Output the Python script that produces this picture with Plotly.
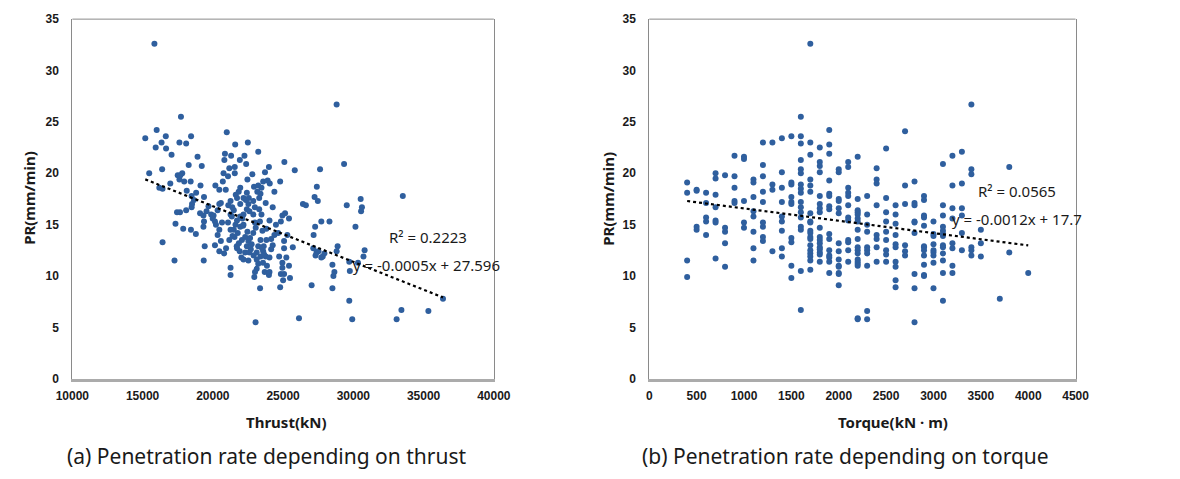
import numpy as np
import plotly.graph_objects as go

# ---------------- data: (a) thrust vs PR ----------------
thrust_kN = [15840, 28810, 17730, 16000, 15190, 16650, 18450, 20990, 15930, 16350, 16670, 17620, 18100, 17060,
             18910, 19210, 21590, 22490, 23230, 20860, 20820, 21300, 21920, 22250, 22370, 25090, 29340, 15470,
             16390, 18280, 17500, 17820, 17620, 17960, 18420, 16970, 19120, 16190, 16420, 18140, 18810, 18650,
             19370, 19690, 18490, 17660, 19090, 18100, 20760, 21080, 21560, 21560, 20710, 20180, 20460, 20920,
             21170, 22810, 22460, 22930, 23230, 23580, 23710, 23990, 23900, 24050, 24790, 24380, 25830, 27630,
             27400, 27240, 27470, 26410, 26620, 29530, 30520, 30610, 30550, 33520, 30150, 30800, 30720, 28300,
             27720, 27280, 27170, 27150, 27380, 27520, 27720, 27820, 27310, 27940, 28880, 28810, 29710, 30330,
             28510, 28650, 28580, 29750, 29710, 28510, 27030, 24790, 23360, 23040, 26130, 29920, 33080, 33420,
             35340, 36380, 17270, 19350, 16420, 17340, 17890, 18440, 18790, 19420, 19330, 19370, 19330, 18520,
             19880, 19990, 20150, 20340, 20460, 20570, 20220, 20460, 20340, 20150, 20460, 20570, 20800, 20940,
             21170, 21260, 21080, 21260, 21380, 21260, 21490, 21630, 21950, 21840, 21720, 21950, 22180, 22420,
             22560, 22530, 22420, 22180, 21950, 21720, 21610, 21490, 21770, 21540, 21950, 22180, 22070, 21720,
             21910, 22030, 22300, 22420, 22530, 22300, 22460, 22650, 22760, 22600, 22530, 22180, 22880, 22990,
             22880, 22990, 22880, 23300, 23160, 23390, 23460, 23300, 23460, 23350, 23530, 23810, 23760, 24030,
             24260, 24490, 24380, 24260, 24150, 23810, 23620, 23580, 23390, 23760, 24030, 23570, 23850, 23690,
             23990, 24030, 23230, 23120, 23000, 22950, 23120, 23120, 23230, 23390, 21260, 21260, 24720, 24950,
             24950, 24840, 25070, 25000, 25230, 25420, 25490, 25070, 25070, 25300, 24840, 24950, 25140, 25420,
             25690, 24650, 18490, 17450, 17690, 21400, 21700, 22100, 22700, 23050, 22350, 21850, 22600, 23500,
             21350, 20650, 19550, 20050, 22900, 23650, 24150, 21100, 22150]
pr_thrust = [32.6, 26.7, 25.5, 24.2, 23.4, 23.6, 23.6, 24.0, 22.5, 23.0, 22.4, 23.0, 22.9, 21.8,
             21.6, 20.7, 22.8, 23.0, 22.1, 21.9, 21.3, 21.7, 21.3, 21.7, 20.9, 21.1, 20.9, 20.0,
             20.4, 20.8, 19.8, 20.0, 19.4, 19.2, 19.2, 19.0, 18.8, 18.6, 18.5, 18.3, 18.1, 17.4,
             17.7, 16.8, 16.7, 16.2, 16.1, 16.4, 20.0, 19.7, 20.6, 20.0, 19.2, 18.8, 18.4, 18.4,
             20.5, 19.9, 19.4, 18.7, 18.8, 19.2, 20.1, 20.6, 19.3, 19.0, 19.2, 18.2, 20.3, 20.4,
             18.7, 17.7, 17.3, 17.0, 16.9, 16.9, 17.5, 16.7, 16.3, 17.8, 14.8, 12.5, 11.9, 15.3,
             15.3, 14.8, 14.0, 12.7, 12.3, 12.4, 11.8, 11.9, 12.0, 12.2, 12.9, 12.4, 11.4, 11.3,
             11.1, 10.4, 10.0, 10.5, 7.6, 8.8, 9.1, 8.9, 8.8, 5.5, 5.9, 5.8, 5.8, 6.7,
             6.6, 7.8, 11.5, 11.5, 13.3, 15.1, 14.6, 14.5, 14.1, 12.9, 14.8, 15.3, 15.9, 17.0,
             16.0, 15.6, 15.3, 16.4, 17.0, 17.1, 15.0, 14.5, 14.0, 13.0, 12.4, 13.4, 12.2, 12.7,
             13.5, 14.5, 15.2, 16.0, 16.7, 17.3, 16.4, 17.9, 18.6, 18.2, 17.6, 17.0, 17.6, 18.1,
             17.6, 17.0, 16.5, 16.0, 15.8, 15.4, 15.0, 14.5, 14.2, 13.8, 14.8, 15.0, 13.5, 12.7,
             12.4, 11.8, 12.3, 12.9, 13.4, 13.8, 14.3, 13.7, 13.1, 12.3, 11.5, 11.6, 14.2, 15.2,
             16.0, 16.7, 17.3, 17.6, 18.2, 18.0, 18.6, 16.5, 16.0, 15.3, 14.4, 14.6, 17.1, 15.4,
             16.7, 15.0, 14.0, 13.0, 12.6, 13.5, 12.9, 12.4, 11.9, 11.9, 11.8, 11.3, 11.0, 10.4,
             10.1, 10.4, 11.2, 10.7, 10.4, 9.9, 11.6, 12.3, 12.9, 13.5, 10.8, 10.1, 11.9, 11.3,
             10.8, 10.2, 10.2, 9.6, 11.8, 11.0, 9.8, 12.7, 13.4, 14.0, 15.3, 15.9, 16.1, 15.6,
             12.8, 14.2, 17.8, 16.2, 19.8, 13.9, 12.9, 15.6, 12.6, 14.7, 17.4, 13.2, 16.3, 12.7,
             15.8, 15.2, 16.3, 15.9, 12.0, 12.1, 13.6, 16.9, 14.9]

# ---------------- data: (b) torque vs PR ----------------
torque_cols = {
    400: [19.1, 18.1, 11.5, 9.9],
    500: [18.4, 18.3, 14.8, 14.5],
    600: [18.1, 17.1, 15.7, 15.3, 14.0],
    700: [20.0, 19.5, 17.9, 16.7, 15.4, 15.2, 11.7],
    800: [19.8, 14.7, 14.3, 13.2, 10.9],
    900: [21.7, 19.7, 18.6, 17.3, 17.1],
    1000: [21.6, 21.4, 17.3, 15.2, 14.7],
    1100: [19.4, 19.1, 17.7, 16.3, 15.8, 14.3, 12.7, 11.5],
    1200: [23.0, 20.8, 19.7, 18.2, 17.2, 15.2, 14.8, 13.8, 13.4],
    1300: [23.0, 18.9, 18.4, 12.4],
    1400: [23.4, 20.1, 18.6, 17.2, 15.8, 15.3, 14.4, 12.7, 11.9],
    1500: [23.6, 19.1, 18.9, 17.7, 17.2, 17.0, 13.7, 13.3, 11.0, 9.8],
    1600: [25.5, 23.6, 22.9, 21.3, 20.4, 20.0, 18.9, 18.5, 18.1, 17.2, 16.7, 16.2, 15.7, 14.8, 14.5, 10.5, 6.7],
    1700: [32.6, 23.0, 21.8, 19.4, 18.8, 18.2, 16.1, 15.3, 15.2, 14.4, 14.2, 13.8, 13.6, 13.0, 12.5, 12.2, 11.9,
           11.5, 10.6],
    1800: [22.5, 21.1, 20.7, 20.1, 17.8, 17.0, 16.6, 16.2, 14.7, 13.8, 13.5, 13.2, 12.8, 12.6, 12.3, 12.1, 11.4],
    1900: [24.2, 22.8, 21.9, 19.3, 18.0, 17.8, 16.8, 16.5, 14.1, 13.6, 12.5, 12.0, 11.8, 11.4, 10.3],
    2000: [20.4, 20.1, 17.5, 17.3, 16.6, 16.1, 13.2, 12.4, 11.6, 11.0, 10.9, 10.3, 10.2, 9.1],
    2100: [21.1, 20.6, 18.6, 18.1, 17.8, 16.9, 15.7, 15.4, 13.5, 13.3, 12.5, 11.4],
    2200: [21.6, 17.5, 16.4, 16.2, 16.0, 15.6, 15.3, 14.5, 13.6, 12.8, 12.5, 12.2, 11.6, 11.4, 11.2, 11.0, 5.9, 5.8],
    2300: [17.8, 16.0, 15.0, 14.3, 12.8, 12.5, 12.2, 11.0, 6.6, 5.8],
    2400: [20.5, 19.4, 19.0, 16.9, 14.0, 13.6, 12.8, 11.4],
    2500: [22.4, 17.6, 16.2, 15.3, 14.3, 13.5, 12.5, 12.1, 11.4],
    2600: [16.9, 16.0, 15.1, 14.0, 13.1, 12.8, 11.4, 10.9, 9.6, 8.9],
    2700: [24.1, 18.8, 17.0, 13.0, 12.4, 12.0],
    2800: [19.2, 17.1, 16.9, 15.3, 15.2, 14.2, 10.2, 8.8, 5.5],
    2900: [17.8, 17.4, 15.9, 15.7, 14.9, 12.9, 12.8, 12.5, 12.0, 11.1, 10.1, 10.0],
    3000: [15.3, 14.1, 13.9, 13.1, 12.5, 12.3, 12.0, 11.3, 8.8],
    3100: [20.9, 16.9, 15.9, 14.8, 14.4, 14.1, 13.9, 13.0, 12.8, 12.2, 11.5, 10.3, 7.6],
    3200: [21.7, 18.8, 16.6, 15.6, 13.2, 12.7, 11.0, 10.3],
    3300: [22.1, 19.0, 16.6, 15.9, 14.2, 12.5],
    3400: [26.7, 20.4, 19.9, 12.8, 12.5, 12.0],
    3500: [14.5, 13.2, 11.9],
    3700: [7.8],
    3800: [20.6, 12.3],
    4000: [10.3],
}
torque_kNm = [t for t, vals in torque_cols.items() for _ in vals]
pr_torque = [v for vals in torque_cols.values() for v in vals]

# trendline coefficients (Excel linear trendline)
trend_a = (-0.000542, 27.64)
trend_b = (-0.0012, 17.78)
eq_a = ["R² = 0.2223", "y = -0.0005x + 27.596"]
eq_b = ["R² = 0.0565", "y = -0.0012x + 17.7"]

xticks_a = [10000, 15000, 20000, 25000, 30000, 35000, 40000]
xticks_b = [0, 500, 1000, 1500, 2000, 2500, 3000, 3500, 4000, 4500]
yticks = [0, 5, 10, 15, 20, 25, 30, 35]

W, H = 1180, 479
DOT = "#2F5F9E"
FONT = "Noto Sans"
TICKFONT = dict(family="Liberation Sans", size=12, color="#1a1a1a", weight="bold")

fig = go.Figure()
fig.add_trace(go.Scatter(x=thrust_kN, y=pr_thrust, mode="markers",
                         marker=dict(size=6, color=DOT), xaxis="x", yaxis="y", showlegend=False))
xa = np.array([min(thrust_kN), max(thrust_kN)])
fig.add_trace(go.Scatter(x=xa, y=trend_a[0] * xa + trend_a[1], mode="lines",
                         line=dict(color="black", width=2.2, dash="dot"), xaxis="x", yaxis="y", showlegend=False))
fig.add_trace(go.Scatter(x=torque_kNm, y=pr_torque, mode="markers",
                         marker=dict(size=6, color=DOT), xaxis="x2", yaxis="y2", showlegend=False))
xb = np.array([min(torque_kNm), max(torque_kNm)])
fig.add_trace(go.Scatter(x=xb, y=trend_b[0] * xb + trend_b[1], mode="lines",
                         line=dict(color="black", width=2.2, dash="dot"), xaxis="x2", yaxis="y2", showlegend=False))

def px(x):
    return x / W

def py(y):
    return 1 - y / H

xcommon = dict(showgrid=False, zeroline=False, showline=True, linecolor="#ababab", linewidth=2.5,
               mirror=False, ticks="", tickfont=TICKFONT, ticklabelstandoff=4, tickformat="d")
ycommon = dict(showgrid=False, zeroline=False, showline=True, linecolor="#8a8a8a", linewidth=1,
               mirror=True, ticks="", tickfont=TICKFONT, ticklabelstandoff=10, range=[0, 35], tickvals=yticks)
yd = [py(383), py(12.5)]
fig.update_layout(
    width=W, height=H, margin=dict(l=0, r=0, t=0, b=0),
    paper_bgcolor="white", plot_bgcolor="white",
    xaxis=dict(domain=[px(57), px(491)], range=[10000, 40000], tickvals=xticks_a, anchor="y", **xcommon),
    yaxis=dict(domain=yd, anchor="x", **ycommon),
    xaxis2=dict(domain=[px(651), px(1090)], range=[0, 4500], tickvals=xticks_b, anchor="y2", **xcommon),
    yaxis2=dict(domain=yd, anchor="x2", **ycommon),
    shapes=[
        dict(type="line", xref="x domain", yref="y domain", x0=0, x1=1, y0=1, y1=1,
             line=dict(color="#8a8a8a", width=1)),
        dict(type="line", xref="x2 domain", yref="y2 domain", x0=0, x1=1, y0=1, y1=1,
             line=dict(color="#8a8a8a", width=1)),
    ],
)

ann = []
def text(x, y, s, size=14, bold=False, angle=0, color="#1a1a1a", family=FONT):
    ann.append(dict(x=px(x), y=py(y), xref="paper", yref="paper", text=f"<b>{s}</b>" if bold else s,
                    showarrow=False, textangle=angle, xanchor="center", yanchor="middle",
                    font=dict(family=family, size=size, color=color)))

text(13, 197, "PR(mm/min)", 15, True, -90)
text(609, 197, "PR(mm/min)", 15, True, -90)
text(278, 428, "Thrust(kN)", 15, True)
text(902, 428, "Torque(kN · m)", 15, True)
text(423, 237, eq_a[0], 15)
text(422, 266, eq_a[1], 15)
text(1030, 190, eq_b[0], 15)
text(1030, 218, eq_b[1], 15)
text(257, 463, "(a) Penetration rate depending on thrust", 21)
text(853, 463, "(b) Penetration rate depending on torque", 21)
fig.update_layout(annotations=ann)

fig.write_html("out.html")
